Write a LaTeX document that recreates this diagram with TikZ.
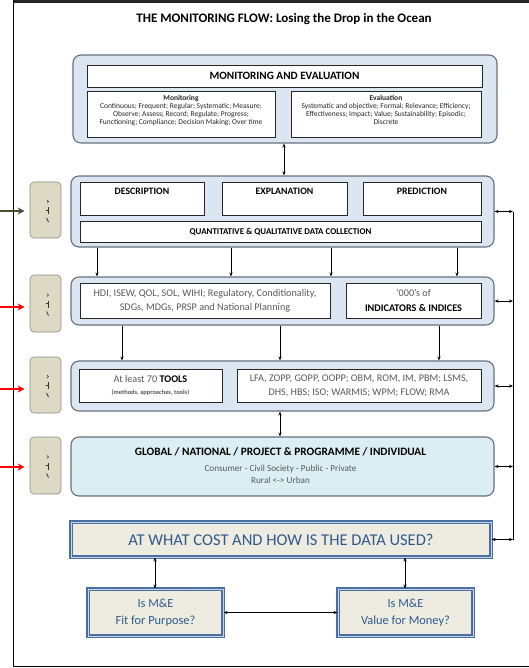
\documentclass[tikz,border=0pt]{standalone}
\usepackage{fontspec}
\setmainfont{Carlito}
\usetikzlibrary{arrows.meta}
\definecolor{panel}{HTML}{DCE6F2}
\definecolor{panelline}{HTML}{66707E}
\definecolor{globfill}{HTML}{DBEEF4}
\definecolor{tabfill}{HTML}{DDD9C3}
\definecolor{tabline}{HTML}{8A8A80}
\definecolor{costfill}{HTML}{EEECE1}
\definecolor{costline}{HTML}{4A6EA0}
\definecolor{costgap}{HTML}{C8D6EA}
\definecolor{costtext}{HTML}{2F5A8C}
\definecolor{graytext}{HTML}{595959}
\definecolor{olive}{HTML}{4D4A30}
\begin{document}
\begin{tikzpicture}[x=1pt,y=-1pt,
  outer/.style={draw=panelline,fill=panel,line width=1.1pt,rounded corners=8pt,inner sep=0pt},
  inner/.style={draw=black!85,fill=white,line width=0.6pt,inner sep=0pt,align=center},
  toplabel/.style={anchor=north,inner sep=0pt,align=center},
  sidetab/.style={draw=tabline,fill=tabfill,line width=0.6pt,rounded corners=4pt,minimum width=31pt,inner sep=0pt},
  qbox/.style={draw=costline,double=costgap,double distance=0.9pt,line width=1.1pt,fill=costfill,inner sep=0pt,align=center,text=costtext},
  arr/.style={line width=0.7pt,-{Stealth[length=4pt,width=3.2pt]}},
  darr/.style={line width=0.7pt,{Stealth[length=4pt,width=3.2pt]}-{Stealth[length=4pt,width=3.2pt]}},
  sidearr/.style={line width=1.1pt,-{Stealth[length=7pt,width=7pt]}}]
\useasboundingbox (0,0) rectangle (529,668);

% page frame
\fill[black!85] (13,0) rectangle (529,3);
\draw[black,line width=1.2pt] (13.5,0) -- (13.5,666.5) -- (529,666.5);

% title
\node[font=\fontsize{13}{15}\selectfont\bfseries] (title) at (284,19) {THE MONITORING FLOW: Losing the Drop in the Ocean};

% monitoring and evaluation panel
\node[outer,minimum width=424pt,minimum height=88pt] (me) at (285,99) {};
\node[inner,minimum width=395pt,minimum height=22pt,font=\fontsize{11.2}{13}\selectfont\bfseries] (mehead) at (284.5,76) {MONITORING AND EVALUATION};
\node[inner,minimum width=188pt,minimum height=46pt,
  label={[toplabel,yshift=-4.3pt,font=\fontsize{7.5}{8}\selectfont,text=black!85]north:{\textbf{Monitoring}\\Continuous; Frequent; Regular; Systematic; Measure;\\Observe; Assess; Record; Regulate; Progress;\\Functioning; Compliance; Decision Making; Over time}}] (mon) at (181,114) {};
\node[inner,minimum width=190pt,minimum height=46pt,
  label={[toplabel,yshift=-4.8pt,font=\fontsize{7.5}{8}\selectfont,text=black!85]north:{\textbf{Evaluation}\\Systematic and objective; Formal; Relevance; Efficiency;\\Effectiveness; Impact; Value; Sustainability; Episodic;\\Discrete}}] (eval) at (386,114) {};

% description / explanation / prediction panel
\node[outer,minimum width=423pt,minimum height=71pt] (dc) at (282.5,211.5) {};
\node[inner,minimum width=124pt,minimum height=33pt,
  label={[toplabel,yshift=-6.5pt,font=\fontsize{9.8}{11}\selectfont\bfseries]north:DESCRIPTION}] (desc) at (142,198.5) {};
\node[inner,minimum width=125pt,minimum height=33pt,
  label={[toplabel,yshift=-6.5pt,font=\fontsize{9.8}{11}\selectfont\bfseries]north:EXPLANATION}] (expl) at (284.5,198.5) {};
\node[inner,minimum width=118pt,minimum height=33pt,
  label={[toplabel,yshift=-6.5pt,font=\fontsize{9.8}{11}\selectfont\bfseries]north:PREDICTION}] (pred) at (422,198.5) {};
\node[inner,minimum width=401pt,minimum height=21pt,font=\fontsize{8.9}{10}\selectfont\bfseries] (qq) at (280.5,231.5) {QUANTITATIVE \& QUALITATIVE DATA COLLECTION};

% indicators panel
\node[outer,minimum width=423pt,minimum height=48pt] (ind) at (282.5,301) {};
\node[inner,minimum width=250pt,minimum height=35pt,font=\fontsize{10.2}{14.3}\selectfont,text=graytext] (indl) at (205,300.5)
  {HDI, ISEW, QOL, SOL, WIHI; Regulatory, Conditionality,\\SDGs, MDGs, PRSP and National Planning};
\node[inner,minimum width=135pt,minimum height=35pt,font=\fontsize{10.2}{15}\selectfont] (indr) at (413.5,300.5)
  {{\color{graytext}‘000’s of}\\\textbf{INDICATORS \& INDICES}};

% tools panel
\node[outer,minimum width=423pt,minimum height=50pt] (tools) at (282.5,386) {};
\node[inner,minimum width=143pt,minimum height=33pt,font=\fontsize{10.2}{12.7}\selectfont] (tl) at (150.5,385.5)
  {{\color{graytext}At least 70} \textbf{TOOLS}\\{\fontsize{6.4}{7}\selectfont\bfseries\color{graytext}(methods, approaches, tools)}};
\node[inner,minimum width=244pt,minimum height=33pt,font=\fontsize{10.2}{14.3}\selectfont,text=graytext] (tr) at (359,385.5)
  {LFA, ZOPP, GOPP, OOPP; OBM, ROM, IM, PBM; LSMS,\\DHS, HBS; ISO; WARMIS; WPM; FLOW; RMA};

% level panel
\node[draw=panelline,fill=globfill,line width=1.1pt,rounded corners=8pt,minimum width=423pt,minimum height=59pt] (glob) at (282.5,466.5) {};
\node[align=center,inner sep=0pt,font=\fontsize{9.2}{12.3}\selectfont] (globtext) at (280.5,465.5)
  {{\fontsize{11.3}{12}\selectfont\bfseries GLOBAL / NATIONAL / PROJECT \& PROGRAMME / INDIVIDUAL}\\[3.4pt]
   {\color{graytext}Consumer - Civil Society - Public - Private}\\
   {\color{graytext}Rural <-> Urban}};

% question boxes
\node[qbox,minimum width=420pt,minimum height=35pt,font=\fontsize{16.5}{18}\selectfont] (cost) at (281,539.5) {AT WHAT COST AND HOW IS THE DATA USED?};
\node[qbox,minimum width=135pt,minimum height=47pt,font=\fontsize{12.4}{16.6}\selectfont] (fit) at (155.5,612.5) {Is M\&E\\Fit for Purpose?};
\node[qbox,minimum width=135pt,minimum height=47pt,font=\fontsize{12.4}{16.6}\selectfont] (vfm) at (405.5,612.5) {Is M\&E\\Value for Money?};

% side tabs
\node[sidetab,minimum height=56pt] (tab1) at (45.5,210) {};
\node[sidetab,minimum height=57pt] (tab2) at (45.5,303.5) {};
\node[sidetab,minimum height=56pt] (tab3) at (45.5,385) {};
\node[sidetab,minimum height=57pt] (tab4) at (45.5,465.5) {};
\foreach \t in {tab1,tab2,tab3,tab4}{
  \draw[black!80,line width=0.6pt] ([shift={(1.5,-10)}]\t.center) arc[start angle=90,end angle=-90,radius=1.5pt];
  \draw[black!80,line width=1pt] ([shift={(2.5,-3)}]\t.center) -- ([shift={(2.5,4)}]\t.center);
  \draw[black!80,line width=0.6pt] ([shift={(0,0)}]\t.center) -- ([shift={(2.5,0)}]\t.center);
  \draw[black!80,line width=0.8pt] ([shift={(1,8)}]\t.center) -- ([shift={(3,12)}]\t.center);
}

% incoming arrows at the left edge
\coordinate (in1) at (0,211);
\coordinate (in2) at (0,307);
\coordinate (in3) at (0,389);
\coordinate (in4) at (0,467);
\draw[sidearr,olive] (in1) -- ([xshift=-5pt]tab1.west |- in1);
\draw[sidearr,red] (in2) -- ([xshift=-5pt]tab2.west |- in2);
\draw[sidearr,red] (in3) -- ([xshift=-5pt]tab3.west |- in3);
\draw[sidearr,red] (in4) -- ([xshift=-5pt]tab4.west |- in4);

% vertical flow between panels
\coordinate (mx) at (284,0);
\draw[darr] (me.south -| mx) -- (dc.north -| mx);
\foreach \x in {97,231,331,457}{
  \coordinate (dx) at (\x,0);
  \draw[arr] (dc.south -| dx) -- (ind.north -| dx);
}
\foreach \x in {122,280,439}{
  \coordinate (ix) at (\x,0);
  \draw[arr] (ind.south -| ix) -- (tools.north -| ix);
}
\coordinate (tx) at (280,0);
\draw[darr] (tools.south -| tx) -- (glob.north -| tx);

% right-hand feedback bus
\coordinate (bus) at (513,0);
\draw[line width=0.7pt] (dc.east -| bus) -- (cost.east -| bus);
\foreach \b in {dc,ind,tools,glob,cost}{
  \draw[darr] (\b.east) -- (\b.east -| bus);
}

% question links
\coordinate (qa) at (155,0);
\coordinate (qb) at (405,0);
\draw[darr] (cost.south -| qa) -- (fit.north -| qa);
\draw[darr] (cost.south -| qb) -- (vfm.north -| qb);
\draw[darr] (fit.east) -- (vfm.west);
\end{tikzpicture}
\end{document}
